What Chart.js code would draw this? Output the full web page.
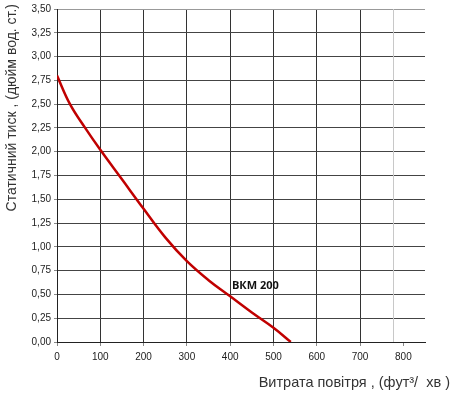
<!DOCTYPE html>
<html>
<head>
<meta charset="utf-8">
<script src="https://cdn.jsdelivr.net/npm/chart.js@4/dist/chart.umd.min.js"></script>
<style>
  html, body { margin: 0; padding: 0; background: #fff; }
  #wrap { width: 450px; height: 394px; }
</style>
</head>
<body>
<div id="wrap"><canvas id="fanChart"></canvas></div>
<script>
// airflow (cfm) and static pressure (in. w.g.)
const airflow = [0, 30, 65, 100, 150, 200, 250, 300, 350, 400, 450, 500, 540];
const pressure = [2.80, 2.50, 2.25, 2.02, 1.71, 1.40, 1.10, 0.85, 0.65, 0.48, 0.31, 0.15, 0.00];
const seriesName = "ВКМ 200";
const xTicks = [0, 100, 200, 300, 400, 500, 600, 700, 800];
const yTitle = "Статичний тиск , (дюйм вод. ст.)";
const xTitle = "Витрата повітря , (фут³/  хв )";

// text labels drawn on the canvas (axis titles + curve name)
const labelsPlugin = {
  id: "labels",
  beforeDatasetsDraw(chart) {
    // faint extra vertical line seen near 775 in the original
    const xs = chart.scales.x, area = chart.chartArea, c = chart.ctx;
    const px = Math.round(xs.getPixelForValue(775)) + 0.5;
    c.save();
    c.strokeStyle = "#c8c8c8";
    c.lineWidth = 1;
    c.beginPath();
    c.moveTo(px, area.top);
    c.lineTo(px, area.bottom);
    c.stroke();
    c.restore();
  },
  afterDraw(chart) {
    const c = chart.ctx;
    const xs = chart.scales.x, ys = chart.scales.y;
    c.save();
    c.fillStyle = "#333";
    c.font = "14.5px 'Liberation Sans', Arial, sans-serif";
    c.textBaseline = "middle";
    c.textAlign = "right";
    c.fillText(xTitle, 450, 383);
    c.font = "14px 'Liberation Sans', Arial, sans-serif";
    c.translate(12, 4);
    c.rotate(-Math.PI / 2);
    c.fillText(yTitle, 0, 0);
    c.restore();

    c.save();
    c.fillStyle = "#111";
    c.font = "bold 11px 'Open Sans', sans-serif";
    c.textBaseline = "middle";
    c.fillText(seriesName, xs.getPixelForValue(404), ys.getPixelForValue(0.59));
    c.restore();
  }
};

new Chart(document.getElementById("fanChart"), {
  type: "line",
  data: {
    datasets: [{
      label: seriesName,
      data: airflow.map((x, i) => ({ x: x, y: pressure[i] })),
      borderColor: "#c00000",
      borderWidth: 2.5,
      pointRadius: 0,
      tension: 0.4,
      fill: false
    }]
  },
  options: {
    responsive: true,
    maintainAspectRatio: false,
    animation: false,
    layout: { padding: { top: 7, right: 25, left: 0, bottom: 0 } },
    plugins: {
      legend: { display: false },
      tooltip: { enabled: false }
    },
    scales: {
      x: {
        type: "linear",
        min: 0,
        max: 850,
        afterBuildTicks(scale) {
          scale.ticks = xTicks.map(v => ({ value: v }));
        },
        afterFit(scale) { scale.height = 52; },
        ticks: {
          color: "#222",
          font: { family: "'Liberation Sans', Arial, sans-serif", size: 10 },
          padding: 5,
          maxRotation: 0
        },
        grid: {
          color: ctx => (ctx.tick && ctx.tick.value === 800 ? "rgba(0,0,0,0)" : "#333"),
          tickColor: "#888",
          tickLength: 4
        },
        border: { color: "#222", width: 1 }
      },
      y: {
        min: 0,
        max: 3.5,
        afterFit(scale) { scale.width = 57; },
        ticks: {
          stepSize: 0.25,
          color: "#222",
          font: { family: "'Liberation Sans', Arial, sans-serif", size: 10 },
          padding: 3,
          callback: v => v.toFixed(2).replace(".", ",")
        },
        grid: {
          color: ctx => (ctx.tick && ctx.tick.value === 3.5 ? "#999" : "#444"),
          tickColor: "#888",
          tickLength: 3
        },
        border: { color: "#222", width: 1 }
      }
    }
  },
  plugins: [labelsPlugin]
});
</script>
</body>
</html>
